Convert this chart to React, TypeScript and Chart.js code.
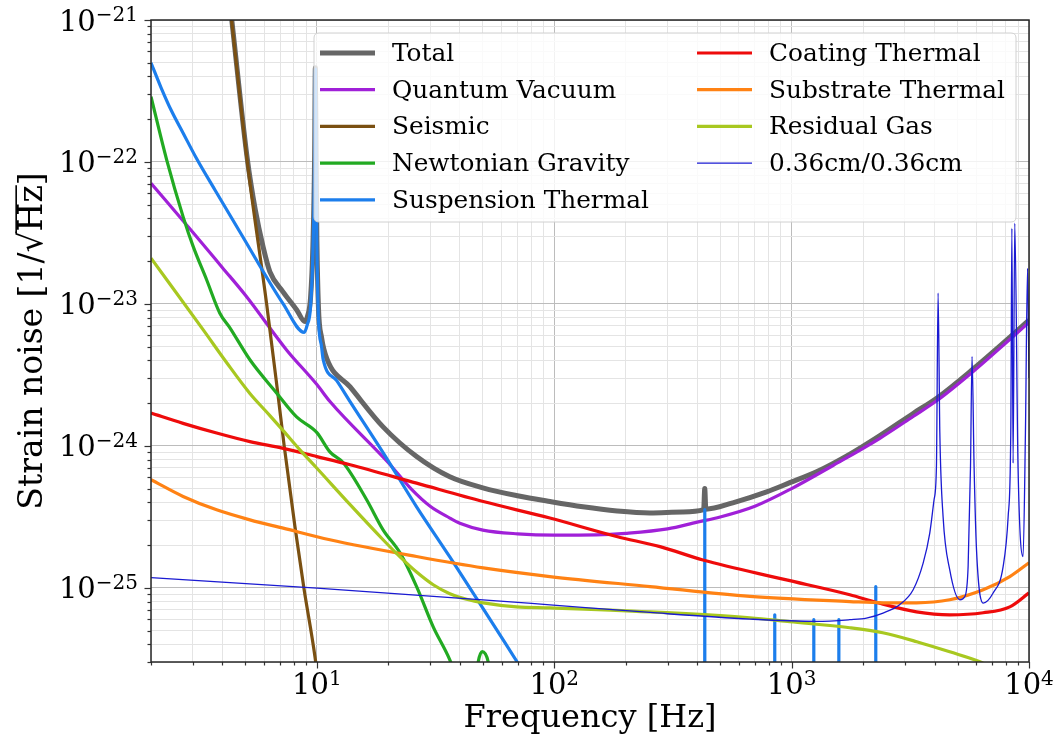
import React, { useEffect, useRef } from 'react';
import { Chart, registerables } from 'chart.js';

Chart.register(...registerables);

const FONT_FAMILY = "'DejaVu Serif', serif";

// ---------- axis ticks ----------
const xMajorTicks = [10, 100, 1000, 10000];
const xMajorExps = ['1', '2', '3', '4'];
const xMinorTicks = [2, 3, 4, 5, 6, 7, 8, 9, 20, 30, 40, 50, 60, 70, 80, 90, 200, 300, 400, 500, 600, 700, 800, 900, 2000, 3000, 4000, 5000, 6000, 7000, 8000, 9000];
const yMajorTicks = [1e-25, 1e-24, 1e-23, 1e-22, 1e-21];
const yMajorExps = ['−25', '−24', '−23', '−22', '−21'];
const yMinorTicks = [3e-26, 4e-26, 5e-26, 6e-26, 7e-26, 8e-26, 9e-26, 2e-25, 3e-25, 4e-25, 5e-25, 6e-25, 7e-25, 8e-25, 9e-25, 2e-24, 3e-24, 4e-24, 5e-24, 6e-24, 7e-24, 8e-24, 9e-24, 2e-23, 3e-23, 4e-23, 5e-23, 6e-23, 7e-23, 8e-23, 9e-23, 2e-22, 3e-22, 4e-22, 5e-22, 6e-22, 7e-22, 8e-22, 9e-22];
const tickBase = '10';
const xTitle = 'Frequency [Hz]';
const yTitle = 'Strain noise [1/√Hz]';

// ---------- series ----------
const seriesNames = ['Total', 'Quantum Vacuum', 'Seismic', 'Newtonian Gravity', 'Suspension Thermal', 'Coating Thermal', 'Substrate Thermal', 'Residual Gas', '0.36cm/0.36cm'];
const seriesColors = ['#666666', '#a020d8', '#7a5012', '#22aa22', '#1c7eec', '#ee0b0b', '#ff8214', '#a8c820', '#1a1ad2'];
const seriesWidths = [5, 3.2, 3.2, 3.2, 3.2, 3.2, 3.2, 3.2, 1.3];

const totalFreq = [4.2, 4.37, 5.09, 5.5, 5.94, 6.34, 7.21, 8.21, 8.9, 9.15, 9.4, 9.62, 9.78, 9.85, 9.92, 10.0, 10.15, 10.46, 11.02, 13.8, 19.0, 26.3, 36.3, 50, 70, 96, 132, 184, 253, 348, 426, 430.5, 435, 565, 785, 982, 1274, 1753, 2354, 3250, 4140, 5820, 8570, 10000];
const totalStrain = [1.85e-21, 1.03e-21, 1.05e-22, 4.6e-23, 2.5e-23, 1.68e-23, 1.21e-23, 9.1e-24, 7.5e-24, 8.3e-24, 1.1e-23, 2.6e-23, 1.1e-22, 4.6e-22, 1.1e-22, 2.8e-23, 9.5e-24, 5.8e-24, 4.1e-24, 2.6e-24, 1.36e-24, 8.4e-25, 6.05e-25, 5.06e-25, 4.45e-25, 4.05e-25, 3.72e-25, 3.48e-25, 3.37e-25, 3.42e-25, 3.55e-25, 5.0e-25, 3.58e-25, 3.97e-25, 4.74e-25, 5.5e-25, 6.56e-25, 8.7e-25, 1.18e-24, 1.69e-24, 2.2e-24, 3.48e-24, 6.1e-24, 7.7e-24];

const quantumFreq = [2, 3, 4, 5, 7.45, 10, 11.35, 20, 25, 30, 36.3, 40, 50, 70, 100, 150, 200, 300, 400, 500, 700, 1000, 1500, 2354, 3250, 4140, 5820, 8570, 10000];
const quantumStrain = [7.08e-23, 3.2e-23, 1.8e-23, 1.15e-23, 4.74e-24, 2.7e-24, 2.05e-24, 7.6e-25, 4.95e-25, 3.75e-25, 3.1e-25, 2.85e-25, 2.55e-25, 2.4e-25, 2.35e-25, 2.36e-25, 2.42e-25, 2.6e-25, 2.9e-25, 3.15e-25, 3.75e-25, 5.0e-25, 7.3e-25, 1.13e-24, 1.61e-24, 2.11e-24, 3.34e-24, 5.89e-24, 7.4e-24];

const seismicFreq = [4.2, 4.37, 5.09, 6.14, 6.87, 7.28, 8.08, 8.81, 9.81, 10.5];
const seismicStrain = [1.8e-21, 1e-21, 1e-22, 1e-23, 2.22e-24, 1e-24, 2.7e-25, 1e-25, 3.28e-26, 1.3e-26];

const newtonFreq = [2, 2.33, 2.73, 3.01, 3.43, 3.9, 4.3, 5.22, 6.76, 8.21, 10, 11.34, 12.91, 16.2, 19.0, 22.4, 26.3, 30.9, 36.3, 40, 46, 47.8, 49.7, 52.7, 55];
const newtonStrain = [2.88e-22, 1.03e-22, 4.12e-23, 2.54e-23, 1.48e-23, 8.6e-24, 6.78e-24, 4.04e-24, 2.36e-24, 1.6e-24, 1.24e-24, 9.07e-25, 7.59e-25, 4.17e-25, 2.56e-25, 1.76e-25, 1.02e-25, 5.31e-26, 3.11e-26, 2.0e-26, 1.8e-26, 3.0e-26, 3.55e-26, 3.0e-26, 1.8e-26];

const suspensionFreq = [2, 2.2, 2.43, 2.73, 3.09, 3.72, 4.74, 7.21, 8.84, 9.1, 9.4, 9.62, 9.78, 9.85, 9.92, 10.0, 10.15, 10.46, 10.63, 12.14, 13.77, 18.97, 26.3, 36.3, 50, 69.8, 80, 430.2, 430.6, 431.0, 848.6, 849, 849.4, 1239.4, 1240, 1240.6, 1580.2, 1581, 1581.8, 2261, 2262, 2263];
const suspensionStrain = [5e-22, 3.37e-22, 2.32e-22, 1.6e-22, 1.08e-22, 6.35e-23, 3.21e-23, 1e-23, 6.3e-24, 7.1e-24, 9.5e-24, 2.3e-23, 1e-22, 4.5e-22, 1e-22, 2.5e-23, 8e-24, 5e-24, 4.05e-24, 2.87e-24, 2.06e-24, 9.0e-25, 3.72e-25, 1.65e-25, 7.2e-26, 3.0e-26, 2.1e-26, 1e-27, 3.55e-25, 1e-27, 1e-27, 6.45e-26, 1e-27, 1e-27, 5.96e-26, 1e-27, 1e-27, 5.96e-26, 1e-27, 1e-27, 1.02e-25, 1e-27];

const coatingFreq = [2, 2.73, 3.78, 5.22, 7.21, 10, 13.8, 26.3, 50.2, 95.8, 183, 279, 423, 920, 1758, 2300, 3357, 4634, 6412, 8300, 10000];
const coatingStrain = [1.7e-24, 1.44e-24, 1.23e-24, 1.07e-24, 9.6e-25, 8.4e-25, 7.35e-25, 5.46e-25, 4.05e-25, 3.1e-25, 2.3e-25, 1.95e-25, 1.57e-25, 1.15e-25, 8.93e-26, 7.85e-26, 6.77e-26, 6.45e-26, 6.67e-26, 7.34e-26, 9.2e-26];

const substrateFreq = [2, 2.73, 3.78, 5.22, 7.21, 11.34, 26.3, 50.2, 95.8, 253, 667, 1758, 2427, 3357, 4634, 6412, 8300, 10000];
const substrateStrain = [5.77e-25, 4.4e-25, 3.54e-25, 3.01e-25, 2.63e-25, 2.18e-25, 1.66e-25, 1.38e-25, 1.2e-25, 1.02e-25, 8.69e-26, 8.0e-26, 7.84e-26, 7.84e-26, 8.23e-26, 9.68e-26, 1.2e-25, 1.5e-25];

const gasFreq = [2, 3.32, 4.17, 5.22, 6.14, 7.21, 8.48, 10, 13.8, 19.0, 22.4, 26.3, 30.9, 36.3, 42.7, 50.2, 69.4, 95.8, 253, 667, 982, 1758, 2420, 3366, 4634, 6209, 8000, 10000];
const gasStrain = [2.1e-23, 6.56e-24, 3.85e-24, 2.34e-24, 1.73e-24, 1.28e-24, 9.37e-25, 6.95e-25, 3.85e-25, 2.18e-25, 1.65e-25, 1.29e-25, 1.05e-25, 9.08e-26, 8.3e-26, 7.83e-26, 7.34e-26, 7.22e-26, 6.77e-26, 6.15e-26, 5.77e-26, 5.23e-26, 4.82e-26, 4.17e-26, 3.54e-26, 3.01e-26, 2.4e-26, 1.9e-26];

const cavityFreq = [2, 10, 50, 96, 253, 667, 1274, 1758, 2066, 2427, 2851, 3251, 3581, 3819, 3981, 4074, 4140, 4210, 4345, 4634, 5114, 5370, 5540, 5670, 5755, 5870, 6010, 6412, 7060, 7780, 8170, 8380, 8470, 8570, 8710, 8990, 9440, 9660, 9860, 10000];
const cavityStrain = [1.18e-25, 9.95e-26, 8.23e-26, 7.58e-26, 6.7e-26, 6.02e-26, 5.8e-26, 5.96e-26, 6.12e-26, 6.64e-26, 7.6e-26, 9.68e-26, 1.49e-25, 2.43e-25, 4.17e-25, 7.15e-25, 1.19e-23, 1.24e-24, 3.18e-25, 1.34e-25, 8.23e-26, 8.69e-26, 1.41e-25, 7.15e-25, 4.26e-24, 7.15e-25, 1.85e-25, 7.8e-26, 9.18e-26, 1.41e-25, 3.18e-25, 1.24e-24, 3.41e-23, 7.55e-25, 3.7e-23, 7.15e-25, 1.66e-25, 1.24e-24, 1.78e-23, 3e-24];

const seriesFreqs = [totalFreq, quantumFreq, seismicFreq, newtonFreq, suspensionFreq, coatingFreq, substrateFreq, gasFreq, cavityFreq];
const seriesStrains = [totalStrain, quantumStrain, seismicStrain, newtonStrain, suspensionStrain, coatingStrain, substrateStrain, gasStrain, cavityStrain];

const legendColumns = [[0, 1, 2, 3, 4], [5, 6, 7, 8]];

const xTickValues = [...xMinorTicks, ...xMajorTicks].sort((a, b) => a - b);
const yTickValues = [...yMinorTicks, ...yMajorTicks].sort((a, b) => a - b);

const TICK_SIZE = 29;
const EXP_SIZE = 20;
const TITLE_SIZE = 32;
const YTITLE_SIZE = 33;
const YTITLE_PAD = 14;

function drawPow(ctx: CanvasRenderingContext2D, exp: string, x: number, baseline: number, align: 'right' | 'center') {
  ctx.font = `${TICK_SIZE}px ${FONT_FAMILY}`;
  const wb = ctx.measureText(tickBase).width;
  ctx.font = `${EXP_SIZE}px ${FONT_FAMILY}`;
  const we = ctx.measureText(exp).width;
  const total = wb + we;
  const x0 = align === 'right' ? x - total : x - total / 2;
  ctx.textAlign = 'left';
  ctx.textBaseline = 'alphabetic';
  ctx.fillStyle = '#000';
  ctx.font = `${TICK_SIZE}px ${FONT_FAMILY}`;
  ctx.fillText(tickBase, x0, baseline);
  ctx.font = `${EXP_SIZE}px ${FONT_FAMILY}`;
  ctx.fillText(exp, x0 + wb, baseline - 9.5);
}

const decorPlugin = {
  id: 'decor',
  afterDraw(chart: any) {
    const { ctx, chartArea: a, scales } = chart;
    ctx.save();
    // tick marks
    ctx.strokeStyle = '#333';
    ctx.lineWidth = 1.2;
    for (const t of scales.x.ticks) {
      const px = Math.round(scales.x.getPixelForValue(t.value)) + 0.5;
      const len = t.major ? 6.5 : 3.5;
      ctx.beginPath();
      ctx.moveTo(px, a.bottom);
      ctx.lineTo(px, a.bottom + len);
      ctx.stroke();
    }
    for (const t of scales.y.ticks) {
      const py = Math.round(scales.y.getPixelForValue(t.value)) + 0.5;
      const len = t.major ? 6.5 : 3.5;
      ctx.beginPath();
      ctx.moveTo(a.left, py);
      ctx.lineTo(a.left - len, py);
      ctx.stroke();
    }
    // frame
    ctx.strokeStyle = '#262626';
    ctx.lineWidth = 1.5;
    ctx.strokeRect(a.left, a.top, a.right - a.left, a.bottom - a.top);

    // tick labels (10^n), positioned with the scales
    xMajorTicks.forEach((v, i) => {
      drawPow(ctx, xMajorExps[i], scales.x.getPixelForValue(v), a.bottom + 32.4, 'center');
    });
    yMajorTicks.forEach((v, i) => {
      drawPow(ctx, yMajorExps[i], 138, scales.y.getPixelForValue(v) + 10.5, 'right');
    });

    // overline of the square root in the y title
    {
      const cx = scales.y.left + YTITLE_SIZE * 0.6 + YTITLE_PAD;
      const cy = (a.top + a.bottom) / 2;
      ctx.save();
      ctx.translate(cx, cy);
      ctx.rotate(-Math.PI / 2);
      ctx.font = `${YTITLE_SIZE}px ${FONT_FAMILY}`;
      ctx.textBaseline = 'middle';
      const W = ctx.measureText(yTitle).width;
      const pre = yTitle.slice(0, yTitle.indexOf('√') + 1);
      const P = ctx.measureText(pre).width;
      const hz = ctx.measureText('Hz').width;
      const rootTop = ctx.measureText('√').actualBoundingBoxAscent;
      const start = -W / 2 + P - 1.5;
      ctx.strokeStyle = '#000';
      ctx.lineWidth = 1.6;
      ctx.beginPath();
      ctx.moveTo(start, -rootTop + 0.8);
      ctx.lineTo(start + hz + 1.5, -rootTop + 0.8);
      ctx.stroke();
      ctx.restore();
    }

    // legend
    const bx = 314, by = 33, bw = 702, bh = 189, r = 5;
    ctx.beginPath();
    ctx.moveTo(bx + r, by);
    ctx.lineTo(bx + bw - r, by);
    ctx.quadraticCurveTo(bx + bw, by, bx + bw, by + r);
    ctx.lineTo(bx + bw, by + bh - r);
    ctx.quadraticCurveTo(bx + bw, by + bh, bx + bw - r, by + bh);
    ctx.lineTo(bx + r, by + bh);
    ctx.quadraticCurveTo(bx, by + bh, bx, by + bh - r);
    ctx.lineTo(bx, by + r);
    ctx.quadraticCurveTo(bx, by, bx + r, by);
    ctx.closePath();
    ctx.fillStyle = 'rgba(255,255,255,0.8)';
    ctx.fill();
    ctx.strokeStyle = '#d0d0d0';
    ctx.lineWidth = 1;
    ctx.stroke();

    const colX = [{ h: 320, t: 392 }, { h: 697, t: 769 }];
    ctx.font = `24.8px ${FONT_FAMILY}`;
    ctx.textBaseline = 'middle';
    ctx.textAlign = 'left';
    legendColumns.forEach((col, ci) => {
      col.forEach((si, ri) => {
        const y = 53 + ri * 36.7;
        ctx.strokeStyle = seriesColors[si];
        ctx.lineWidth = seriesWidths[si];
        ctx.lineCap = 'butt';
        ctx.beginPath();
        ctx.moveTo(colX[ci].h, y);
        ctx.lineTo(colX[ci].h + 55, y);
        ctx.stroke();
        ctx.fillStyle = '#000';
        ctx.fillText(seriesNames[si], colX[ci].t, y + 1.4);
      });
    });
    ctx.restore();
  },
};

export default function App() {
  const ref = useRef<HTMLCanvasElement>(null);
  useEffect(() => {
    const datasets = seriesNames.map((name, i) => ({
      label: name,
      data: seriesFreqs[i].map((f, k) => ({ x: f, y: seriesStrains[i][k] })),
      borderColor: seriesColors[i],
      backgroundColor: seriesColors[i],
      borderWidth: seriesWidths[i],
      pointRadius: 0,
      pointHoverRadius: 0,
      fill: false,
      cubicInterpolationMode: 'monotone',
      capBezierPoints: false,
      order: seriesNames.length - i,
      clip: 0,
      borderJoinStyle: 'round',
      borderCapStyle: 'butt',
    }));
    const chart = new Chart(ref.current as HTMLCanvasElement, {
      type: 'line',
      data: { datasets } as any,
      options: {
        responsive: false,
        animation: false,
        devicePixelRatio: 1,
        events: [],
        layout: { padding: { top: 20, right: 27, left: 0, bottom: 0 } },
        plugins: { legend: { display: false }, tooltip: { enabled: false } },
        scales: {
          x: {
            type: 'logarithmic',
            min: 2,
            max: 10000,
            afterBuildTicks: (s: any) => {
              s.ticks = xTickValues.map((v) => ({ value: v, major: xMajorTicks.includes(v) }));
            },
            afterFit: (s: any) => {
              s.height = 78;
            },
            ticks: { display: false, autoSkip: false },
            grid: {
              drawTicks: false,
              color: (c: any) => (c.tick && c.tick.major ? '#bcbcbc' : '#e4e4e4'),
              lineWidth: 1,
            },
            border: { display: false },
            title: {
              display: true,
              text: xTitle,
              color: '#000',
              font: { family: FONT_FAMILY, size: TITLE_SIZE },
              padding: { top: 0, bottom: 2 },
            },
          },
          y: {
            type: 'logarithmic',
            min: 3e-26,
            max: 1e-21,
            afterBuildTicks: (s: any) => {
              s.ticks = yTickValues.map((v) => ({ value: v, major: yMajorTicks.includes(v) }));
            },
            afterFit: (s: any) => {
              s.width = 151;
            },
            ticks: { display: false, autoSkip: false },
            grid: {
              drawTicks: false,
              color: (c: any) => (c.tick && c.tick.major ? '#bcbcbc' : '#e4e4e4'),
              lineWidth: 1,
            },
            border: { display: false },
            title: {
              display: true,
              text: yTitle,
              color: '#000',
              font: { family: FONT_FAMILY, size: YTITLE_SIZE },
              padding: { top: YTITLE_PAD, bottom: 0 },
            },
          },
        },
      } as any,
      plugins: [decorPlugin],
    });
    return () => chart.destroy();
  }, []);
  return (
    <div style={{ position: 'absolute', left: 0, top: 0, width: 1056, height: 740, background: '#fff' }}>
      <canvas ref={ref} width={1056} height={740} style={{ display: 'block' }} />
    </div>
  );
}
